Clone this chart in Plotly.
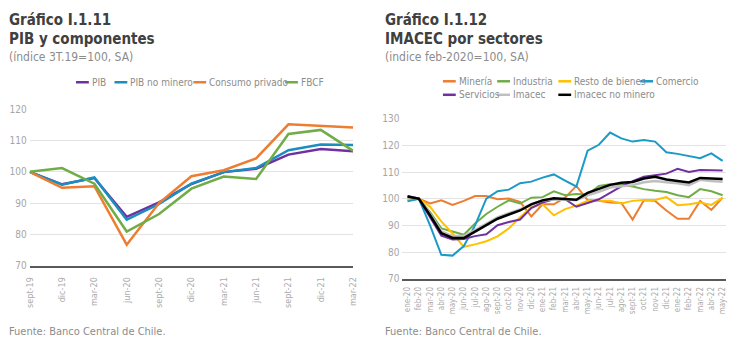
import plotly.graph_objects as go

W, H = 731, 344

# ---------------- data: left chart ----------------
quarters = ["sept-19", "dic-19", "mar-20", "jun-20", "sept-20", "dic-20",
            "mar-21", "jun-21", "sept-21", "dic-21", "mar-22"]
pib = [100, 96.0, 98.0, 85.6, 90.2, 96.1, 99.9, 101.0, 105.5, 107.3, 106.6]
pib_no_minero = [100, 95.9, 98.2, 84.7, 89.7, 96.2, 99.9, 101.2, 106.9, 108.7, 108.6]
consumo_privado = [100, 94.9, 95.4, 76.7, 90.0, 98.6, 100.5, 104.3, 115.2, 114.6, 114.2]
fbcf = [100, 101.2, 96.2, 80.9, 86.5, 94.6, 98.5, 97.7, 112.1, 113.4, 106.7]

# ---------------- data: right chart ----------------
months = ["ene-20", "feb-20", "mar-20", "abr-20", "may-20", "jun-20", "jul-20",
          "ago-20", "sept-20", "oct-20", "nov-20", "dic-20", "ene-21", "feb-21",
          "mar-21", "abr-21", "may-21", "jun-21", "jul-21", "ago-21", "sept-21",
          "oct-21", "nov-21", "dic-21", "ene-22", "feb-22", "mar-22", "abr-22",
          "may-22"]
mineria = [100.5, 100, 98.2, 99.4, 97.7, 99.2, 101.0, 101.0, 99.8, 100.1, 98.8,
           93.4, 97.9, 97.9, 100.4, 104.8, 99.5, 99.2, 98.6, 98.4, 92.2, 99.4,
           99.2, 95.6, 92.5, 92.5, 99.2, 95.8, 100.4]
industria = [99.3, 100, 95.0, 88.9, 87.7, 86.5, 90.7, 94.3, 97.0, 99.4, 98.2,
             100.4, 100.6, 102.8, 101.3, 101.8, 101.6, 104.8, 105.4, 105.2, 104.6,
             103.6, 103.0, 102.5, 101.3, 100.6, 103.6, 102.8, 101.3]
resto_bienes = [99.5, 100, 97.0, 91.5, 87.0, 82.0, 82.9, 84.1, 85.9, 88.9, 93.1,
                96.8, 97.9, 93.8, 96.1, 97.4, 99.2, 99.2, 99.2, 98.2, 99.2, 99.5,
                99.5, 100.6, 97.6, 97.9, 98.6, 97.7, 100.4]
comercio = [99.0, 100, 90.0, 79.0, 78.7, 82.3, 90.0, 100.0, 102.8, 103.4, 105.8,
            106.4, 107.9, 109.1, 106.8, 104.6, 118.0, 120.2, 124.8, 122.6, 121.4,
            122.0, 121.4, 117.4, 116.8, 116.0, 115.2, 117.0, 114.2]
servicios = [101.0, 100, 93.1, 86.2, 84.7, 84.9, 86.0, 86.7, 90.1, 91.3, 92.2,
             96.5, 98.6, 99.8, 99.8, 97.0, 98.4, 99.8, 102.2, 104.6, 106.6, 108.2,
             108.8, 109.4, 111.2, 110.0, 110.8, 110.8, 110.6]
imacec = [100.6, 100, 94.3, 87.8, 86.0, 86.0, 88.3, 90.7, 93.0, 94.6, 96.0, 98.0,
          99.3, 99.8, 99.6, 99.4, 101.3, 102.6, 104.2, 104.6, 105.1, 106.2, 106.6,
          106.2, 105.8, 105.1, 107.1, 106.6, 106.4]
imacec_no_minero = [100.8, 100, 93.8, 87.1, 85.3, 85.3, 87.7, 90.1, 92.5, 94.1,
                    95.6, 97.9, 99.4, 100.2, 100.0, 99.6, 102.2, 103.6, 105.2, 106.0,
                    106.3, 107.6, 108.2, 107.2, 106.7, 106.1, 107.8, 107.6, 107.4]

left_series = [("PIB", pib, "#7030a0"),
               ("PIB no minero", pib_no_minero, "#1b8dbf"),
               ("Consumo privado", consumo_privado, "#ed7d31"),
               ("FBCF", fbcf, "#70ad47")]
right_series = [("Minería", mineria, "#ed7d31", 2),
                ("Industria", industria, "#70ad47", 2),
                ("Resto de bienes", resto_bienes, "#ffc000", 2),
                ("Comercio", comercio, "#1b9ac7", 2),
                ("Servicios", servicios, "#7030a0", 2),
                ("Imacec", imacec, "#bfbfbf", 2.5),
                ("Imacec no minero", imacec_no_minero, "#000000", 2.5)]

FONT = "Liberation Sans Narrow, DejaVu Sans Condensed, Roboto, sans-serif"

fig = go.Figure()
for name, vals, col in left_series:
    fig.add_trace(go.Scatter(x=quarters, y=vals, name=name, mode="lines",
                             line=dict(color=col, width=2.5),
                             xaxis="x", yaxis="y", showlegend=False))
for name, vals, col, w in right_series:
    fig.add_trace(go.Scatter(x=months, y=vals, name=name, mode="lines",
                             line=dict(color=col, width=w),
                             xaxis="x2", yaxis="y2", showlegend=False))

def px(x):
    return x / W

def py(y):
    return 1 - y / H

def xaxis_style(size, standoff):
    return dict(showgrid=False, ticks="", tickangle=-90, ticklabelstandoff=standoff,
                tickfont=dict(family=FONT, size=size, color="#ababab"),
                showline=True, linecolor="#595959", linewidth=2, zeroline=False)

yaxis_common = dict(showgrid=True, gridcolor="#e3e3e3", gridwidth=1, zeroline=False,
                    showline=False, ticks="", ticklabelstandoff=2,
                    tickfont=dict(family=FONT, size=10, color="#a6a6a6"))

fig.update_layout(
    width=W, height=H, margin=dict(l=0, r=0, t=0, b=0),
    paper_bgcolor="white", plot_bgcolor="white",
    xaxis=dict(domain=[px(25), px(353)], range=[0, len(quarters) - 1],
               type="category", anchor="y", **xaxis_style(9, 6)),
    yaxis=dict(domain=[py(269), py(107)], range=[70, 120], dtick=10,
               anchor="x", **yaxis_common),
    xaxis2=dict(domain=[px(403), 1.0], range=[-0.45, len(months) - 1 + 0.3],
                type="category", anchor="y2", **xaxis_style(8, 3)),
    yaxis2=dict(domain=[py(282.7), py(116.7)], range=[70, 130], dtick=10,
                anchor="x2", **yaxis_common),
)

annotations = []
def txt(x, y, s, size, color, bold=False):
    annotations.append(dict(x=px(x), y=py(y), xref="paper", yref="paper",
                            text=("<b>%s</b>" % s) if bold else s, showarrow=False,
                            xanchor="left", yanchor="middle",
                            font=dict(family=FONT, size=size, color=color)))

for x0, t1, t2, t3 in [(2, "Gráfico I.1.11", "PIB y componentes", "(índice 3T.19=100, SA)"),
                       (383, "Gráfico I.1.12", "IMACEC por sectores", "(indice feb-2020=100, SA)")]:
    txt(x0, 14, t1, 15, "#404040", True)
    txt(x0, 34, t2, 15, "#404040", True)
    txt(x0, 53, t3, 12, "#8c8c8c")
    txt(x0, 337, "Fuente: Banco Central de Chile.", 11, "#8c8c8c")

shapes = []
def legend_item(xl, y, name, col):
    shapes.append(dict(type="line", xref="paper", yref="paper",
                       x0=px(xl), x1=px(xl + 13), y0=py(y), y1=py(y),
                       line=dict(color=col, width=2.5)))
    txt(xl + 14, y, name, 10, "#8c8c8c")

left_leg_x = [72, 111, 191, 284]
for (name, _, col), lx in zip(left_series, left_leg_x):
    legend_item(lx, 79, name, col)

right_leg_pos = [(444, 78), (499, 78), (561, 78), (644, 78),
                 (444, 92), (499, 92), (561, 92)]
for (name, _, col, _w), (lx, ly) in zip(right_series, right_leg_pos):
    legend_item(lx, ly, name, col)

fig.update_layout(annotations=annotations, shapes=shapes)
fig.write_html("out.html")
